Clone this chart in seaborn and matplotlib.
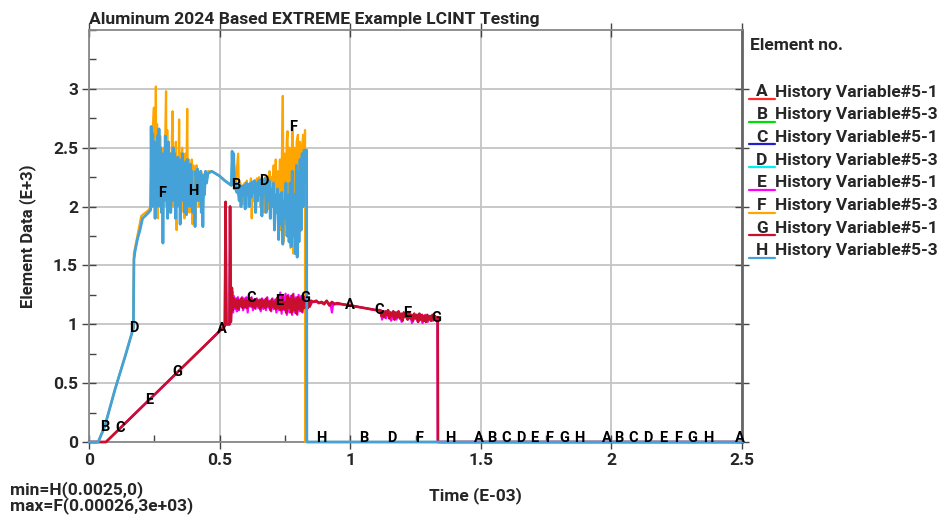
import numpy as np
import pandas as pd
import matplotlib
matplotlib.use("Agg")
import matplotlib.pyplot as plt
from matplotlib.lines import Line2D
from matplotlib.ticker import MultipleLocator
import seaborn as sns

# ---------------- data (Time in E-03, value in E+3) ----------------
title = "Aluminum 2024 Based EXTREME Example LCINT Testing"
letters = ["A", "B", "C", "D", "E", "F", "G", "H"]
names = ["History Variable#5-1", "History Variable#5-3"] * 4
colors = ["#ff2a2a", "#00dd00", "#1f1fd0", "#00f0f0",
          "#ff00ff", "#ffa500", "#c8102e", "#45a2d8"]

# History Variable#5-3 (upper family): curve H
h_x = [0.0, 0.035, 0.06, 0.10, 0.14, 0.17, 0.172, 0.176, 0.185, 0.195, 0.205, 0.215, 0.228, 0.236,
       0.238, 0.241, 0.244, 0.247, 0.250, 0.253, 0.256, 0.259, 0.262, 0.265, 0.268, 0.271, 0.274,
       0.277, 0.280, 0.283, 0.286, 0.289, 0.292, 0.295, 0.298, 0.301, 0.304, 0.307, 0.310, 0.313,
       0.316, 0.319, 0.322, 0.325, 0.328, 0.331, 0.334, 0.337, 0.340, 0.343, 0.346, 0.349, 0.352,
       0.355, 0.358, 0.361, 0.364, 0.367, 0.370, 0.373, 0.376, 0.379, 0.382, 0.385, 0.388, 0.391,
       0.394, 0.397, 0.400, 0.403, 0.406, 0.409, 0.412, 0.415, 0.418, 0.421, 0.424, 0.427, 0.430,
       0.433, 0.436, 0.439, 0.442, 0.446, 0.450, 0.455, 0.470, 0.500, 0.520, 0.545,
       0.548, 0.551, 0.554, 0.557, 0.562, 0.566, 0.570, 0.575, 0.578, 0.582, 0.586, 0.590, 0.594,
       0.598, 0.602, 0.606, 0.610, 0.614, 0.618, 0.622, 0.626, 0.630, 0.634, 0.638, 0.642, 0.646,
       0.650, 0.654, 0.658, 0.662, 0.666, 0.670, 0.674, 0.678, 0.682, 0.686, 0.690, 0.694, 0.698,
       0.702, 0.706, 0.710, 0.714, 0.718, 0.722, 0.726, 0.730, 0.734, 0.738, 0.742, 0.746, 0.750,
       0.754, 0.758, 0.762, 0.766, 0.770, 0.774, 0.778, 0.782, 0.786, 0.790, 0.794, 0.797, 0.800,
       0.804, 0.808, 0.812, 0.816, 0.820, 0.824, 0.828, 0.833, 0.834, 2.5]
h_y = [0.0, 0.0, 0.13, 0.45, 0.74, 0.97, 1.55, 1.62, 1.72, 1.80, 1.90, 1.92, 1.95, 1.97,
       2.68, 2.00, 2.62, 2.05, 2.55, 1.90, 2.45, 2.10, 2.60, 2.00, 2.66, 2.15, 2.50,
       1.95, 2.45, 1.69, 2.30, 2.05, 2.60, 2.10, 2.50, 1.90, 2.55, 2.15, 2.45, 1.95,
       2.40, 2.05, 2.50, 2.10, 2.45, 1.90, 2.35, 2.00, 2.42, 2.10, 2.38, 1.85, 2.40,
       2.05, 2.45, 2.15, 2.35, 1.95, 2.38, 1.93, 2.40, 2.10, 2.33, 2.00, 2.36, 2.15,
       2.30, 1.95, 2.13, 2.10, 1.83, 2.30, 2.20, 2.32, 2.05, 2.28, 2.15, 2.30, 1.95,
       2.27, 1.83, 2.25, 2.10, 2.30, 2.20, 2.28, 2.30, 2.26, 2.22, 2.18,
       2.47, 2.20, 2.45, 2.15, 2.20, 2.12, 2.16, 2.05, 2.18, 2.00, 2.17, 2.10, 2.18,
       1.98, 2.20, 2.10, 2.19, 2.00, 2.20, 2.08, 2.21, 2.12, 2.22, 1.95, 2.20, 2.05,
       2.22, 2.10, 2.23, 1.92, 2.20, 2.22, 2.24, 1.95, 2.18, 2.05, 2.22, 1.90, 2.15,
       2.00, 2.20, 1.80, 2.10, 1.95, 2.15, 1.72, 2.10, 1.85, 2.12, 1.68, 2.05, 1.90,
       2.20, 1.75, 2.10, 1.70, 2.20, 1.66, 2.30, 1.75, 2.10, 1.60, 2.35, 1.57, 2.30,
       1.70, 2.40, 1.80, 2.45, 2.00, 2.48, 2.20, 2.48, 0.0, 0.0]

# History Variable#5-3: curve F
f_x = [0.0, 0.035, 0.06, 0.10, 0.14, 0.17, 0.172, 0.185, 0.200, 0.228, 0.236,
       0.2395, 0.2425, 0.2455, 0.2485, 0.2515, 0.2545, 0.2560, 0.2575, 0.2605, 0.2635, 0.2665,
       0.2695, 0.2725, 0.2755, 0.2785, 0.2815, 0.2845, 0.2875, 0.2905, 0.2950, 0.2965, 0.2995,
       0.3025, 0.3055, 0.3085, 0.3115, 0.3145, 0.3175, 0.3200, 0.3235, 0.3265, 0.3295, 0.3325,
       0.3355, 0.3385, 0.3415, 0.3450, 0.3475, 0.3505, 0.3535, 0.3565, 0.3595, 0.3625, 0.3655,
       0.3685, 0.3715, 0.3760, 0.3785, 0.3815, 0.3845, 0.3875, 0.3905, 0.3935, 0.3965, 0.3995,
       0.4025, 0.4055, 0.4085, 0.4115, 0.4145, 0.4175, 0.4205, 0.4235, 0.4265, 0.4295, 0.4325,
       0.4355, 0.4385, 0.4420, 0.4460, 0.455, 0.470, 0.500, 0.520, 0.545,
       0.5495, 0.5520, 0.5555, 0.5600, 0.5710, 0.5740, 0.5790, 0.5840, 0.5880, 0.5920, 0.5960,
       0.6000, 0.6040, 0.6080, 0.6120, 0.6160, 0.6200, 0.6230, 0.6270, 0.6310, 0.6350, 0.6390,
       0.6430, 0.6470, 0.6510, 0.6550, 0.6590, 0.6630, 0.6670, 0.6710, 0.6750, 0.6790, 0.6830,
       0.6870, 0.6910, 0.6950, 0.6990, 0.7030, 0.7070, 0.7110, 0.7150, 0.7190, 0.7230, 0.7270,
       0.7310, 0.7350, 0.7390, 0.7420, 0.7450, 0.7490, 0.7530, 0.7570, 0.7600, 0.7630, 0.7670,
       0.7710, 0.7760, 0.7800, 0.7830, 0.7870, 0.7910, 0.7950, 0.8000, 0.8030, 0.8070, 0.8110,
       0.8150, 0.8200, 0.8240, 0.8270, 0.8275, 2.5]
f_y = [0.0, 0.0, 0.13, 0.45, 0.74, 0.97, 1.60, 1.75, 1.92, 1.97, 2.00,
       2.45, 2.10, 2.70, 2.84, 2.00, 2.60, 3.02, 2.20, 2.70, 1.90, 2.55,
       2.10, 2.60, 2.00, 2.28, 1.95, 2.50, 2.10, 2.40, 2.98, 2.00, 2.65,
       2.15, 2.50, 1.95, 2.45, 2.10, 2.60, 2.81, 2.00, 2.50, 2.10, 2.55,
       1.80, 2.40, 2.05, 2.74, 2.10, 2.45, 1.95, 2.50, 2.15, 2.40, 1.90,
       2.45, 2.00, 2.83, 2.05, 2.40, 1.95, 2.35, 2.10, 2.40, 1.85, 2.35,
       2.05, 2.30, 1.90, 2.35, 2.10, 2.30, 2.00, 2.28, 2.10, 2.30, 2.00,
       2.25, 2.15, 2.28, 2.22, 2.30, 2.30, 2.26, 2.22, 2.18,
       2.30, 2.20, 2.35, 2.15, 2.45, 2.10, 2.20, 2.05, 2.18, 2.02, 2.20,
       2.08, 2.22, 2.00, 2.18, 2.10, 2.24, 1.90, 2.20, 2.05, 2.22, 2.00,
       2.24, 2.08, 2.25, 2.00, 2.22, 2.10, 2.22, 1.95, 2.25, 2.00, 2.20,
       1.98, 2.30, 1.90, 2.25, 2.05, 2.35, 1.85, 2.40, 1.95, 2.30, 1.75,
       2.40, 1.80, 2.50, 2.94, 1.70, 2.45, 1.85, 2.55, 2.64, 1.75, 2.50,
       1.65, 2.45, 2.68, 1.60, 2.50, 1.70, 2.55, 2.61, 1.75, 2.55, 1.90,
       2.50, 2.61, 2.10, 2.65, 0.0, 0.0]

# History Variable#5-1 (lower family): curve G
g_x = [0.0, 0.065, 0.520, 0.523, 0.526, 0.538, 0.540, 0.543,
       0.547, 0.550, 0.553, 0.556, 0.560, 0.564, 0.568, 0.572, 0.576, 0.580, 0.584, 0.588, 0.592,
       0.596, 0.600, 0.605, 0.610, 0.615, 0.620, 0.625, 0.630, 0.635, 0.640, 0.645, 0.650, 0.655,
       0.660, 0.665, 0.670, 0.675, 0.680, 0.685, 0.690, 0.695, 0.700, 0.705, 0.710, 0.715, 0.720,
       0.725, 0.730, 0.735, 0.740, 0.745, 0.750, 0.755, 0.760, 0.765, 0.770, 0.775, 0.780, 0.785,
       0.790, 0.795, 0.800, 0.805, 0.810, 0.815, 0.820, 0.825, 0.830, 0.835, 0.840, 0.845, 0.850,
       0.860, 0.870, 0.880, 0.890, 0.900, 0.910, 0.920, 0.930, 0.940, 0.950, 0.970, 1.000, 1.050,
       1.100, 1.115, 1.120, 1.125, 1.130, 1.135, 1.140, 1.145, 1.150, 1.155, 1.160, 1.165, 1.170,
       1.175, 1.180, 1.185, 1.190, 1.195, 1.200, 1.205, 1.210, 1.215, 1.220, 1.225, 1.230, 1.235,
       1.240, 1.245, 1.250, 1.255, 1.260, 1.265, 1.270, 1.275, 1.280, 1.285, 1.290, 1.295, 1.300,
       1.305, 1.310, 1.315, 1.320, 1.325, 1.330, 1.335, 1.336, 2.5]
g_y = [0.0, 0.0, 0.985, 2.04, 1.00, 1.00, 2.00, 1.02,
       1.31, 1.12, 1.22, 1.15, 1.20, 1.14, 1.21, 1.13, 1.20, 1.16, 1.22, 1.14, 1.20,
       1.15, 1.21, 1.14, 1.20, 1.16, 1.22, 1.15, 1.20, 1.14, 1.21, 1.16, 1.20, 1.13,
       1.21, 1.15, 1.20, 1.14, 1.22, 1.16, 1.19, 1.12, 1.21, 1.15, 1.19, 1.13, 1.22,
       1.14, 1.20, 1.12, 1.23, 1.13, 1.19, 1.10, 1.24, 1.14, 1.22, 1.10, 1.25, 1.12,
       1.21, 1.09, 1.23, 1.13, 1.21, 1.11, 1.24, 1.14, 1.22, 1.13, 1.21, 1.15, 1.20,
       1.19, 1.20, 1.18, 1.19, 1.17, 1.20, 1.16, 1.19, 1.17, 1.18, 1.17, 1.16, 1.14,
       1.12, 1.12, 1.07, 1.11, 1.06, 1.11, 1.08, 1.12, 1.05, 1.10, 1.07, 1.11, 1.04,
       1.10, 1.06, 1.11, 1.05, 1.09, 1.03, 1.10, 1.06, 1.09, 1.04, 1.10, 1.05, 1.08,
       1.03, 1.09, 1.05, 1.08, 1.02, 1.09, 1.04, 1.08, 1.03, 1.07, 1.02, 1.08, 1.04,
       1.07, 1.03, 1.08, 1.04, 1.07, 1.05, 1.06, 0.0, 0.0]

# History Variable#5-1: curve E
e_x = [0.0, 0.065, 0.520, 0.523, 0.526, 0.538, 0.540, 0.543,
       0.5485, 0.5515, 0.5545, 0.5585, 0.5620, 0.5660, 0.5700, 0.5740, 0.5780, 0.5820, 0.5860,
       0.5900, 0.5940, 0.5980, 0.6025, 0.6075, 0.6125, 0.6175, 0.6225, 0.6275, 0.6325, 0.6375,
       0.6425, 0.6475, 0.6525, 0.6575, 0.6625, 0.6675, 0.6725, 0.6775, 0.6825, 0.6875, 0.6925,
       0.6975, 0.7025, 0.7075, 0.7125, 0.7175, 0.7225, 0.7275, 0.7325, 0.7375, 0.7425, 0.7475,
       0.7525, 0.7575, 0.7625, 0.7675, 0.7725, 0.7775, 0.7825, 0.7875, 0.7925, 0.7975, 0.8025,
       0.8075, 0.8125, 0.8175, 0.8225, 0.8275, 0.8325, 0.8375, 0.8425, 0.8475, 0.855, 0.870,
       0.890, 0.910, 0.925, 0.930, 0.935, 0.950, 0.970, 1.000, 1.050, 1.100, 1.117, 1.122,
       1.127, 1.137, 1.147, 1.157, 1.167, 1.177, 1.187, 1.197, 1.207, 1.217, 1.227, 1.237, 1.247,
       1.257, 1.267, 1.277, 1.287, 1.297, 1.307, 1.317, 1.327, 1.334, 1.335, 2.5]
e_y = [0.0, 0.0, 0.985, 2.04, 1.00, 1.00, 2.00, 1.02,
       1.28, 1.10, 1.24, 1.13, 1.22, 1.11, 1.23, 1.12, 1.21, 1.15, 1.23, 1.12, 1.22,
       1.14, 1.23, 1.10, 1.21, 1.15, 1.23, 1.12, 1.21, 1.13, 1.22, 1.14, 1.21, 1.11,
       1.22, 1.13, 1.21, 1.12, 1.23, 1.14, 1.20, 1.11, 1.22, 1.13, 1.21, 1.10, 1.23,
       1.12, 1.27, 1.09, 1.25, 1.12, 1.26, 1.08, 1.25, 1.10, 1.24, 1.08, 1.26, 1.10,
       1.23, 1.08, 1.25, 1.11, 1.24, 1.10, 1.22, 1.12, 1.21, 1.14, 1.20, 1.16, 1.19,
       1.19, 1.18, 1.19, 1.17, 1.10, 1.18, 1.17, 1.17, 1.16, 1.14, 1.12, 1.12, 1.04,
       1.11, 1.05, 1.11, 1.03, 1.10, 1.04, 1.10, 1.02, 1.09, 1.10, 1.09, 1.01, 1.08,
       1.03, 1.08, 1.01, 1.08, 1.02, 1.07, 1.03, 1.06, 1.05, 0.0, 0.0]

# Curves A and C follow G; curves B and D follow H
series_x = [g_x, h_x, g_x, h_x, e_x, f_x, g_x, h_x]
series_y = [g_y, h_y, g_y, h_y, e_y, f_y, g_y, h_y]

# x positions (E-03) of the curve letter markers
label_x = [
    [0.51, 1.00, 1.494, 1.983, 2.49],
    [0.06, 0.56, 1.051, 1.542, 2.03],
    [0.12, 0.62, 1.11, 1.599, 2.085],
    [0.17, 0.67, 1.161, 1.654, 2.14],
    [0.23, 0.73, 1.22, 1.705, 2.20],
    [0.28, 0.78, 1.262, 1.760, 2.255],
    [0.34, 0.83, 1.33, 1.820, 2.31],
    [0.40, 0.89, 1.382, 1.877, 2.37],
]

x_ticks = [0, 0.5, 1, 1.5, 2, 2.5]
y_ticks = [0, 0.5, 1, 1.5, 2, 2.5, 3]
min_text = "min=H(0.0025,0)"
max_text = "max=F(0.00026,3e+03)"

# ---------------- plotting ----------------
sns.set_theme(style="white")
plt.rcParams["font.family"] = ["Roboto", "DejaVu Sans"]
plt.rcParams["font.weight"] = "bold"

W, H = 941, 515
fig = plt.figure(figsize=(W / 100, H / 100), dpi=100)
L, R, T, B = 89, 742, 30, 442
ax = fig.add_axes([L / W, 1 - B / H, (R - L) / W, (B - T) / H])

widths = [1.2, 1.2, 1.2, 1.2, 1.6, 1.6, 1.9, 2.0]
for i, (xs, ys) in enumerate(zip(series_x, series_y)):
    df = pd.DataFrame({"t": xs, "v": ys})
    sns.lineplot(data=df, x="t", y="v", ax=ax, color=colors[i], lw=widths[i],
                 sort=False, estimator=None, legend=False, zorder=3 + i * 0.1)
for ln in ax.get_lines():
    ln.set_clip_on(False)

for i, xs_lab in enumerate(label_x):
    for xl in xs_lab:
        yl = float(np.interp(xl, series_x[i], series_y[i]))
        yl = max(yl, 0.035)
        ax.text(xl, yl, letters[i], ha="center", va="center", fontsize=10.5,
                fontweight="bold", color="black", zorder=10)

ax.set_xlim(0, 2.5)
ax.set_ylim(0, 3.5)
ax.set_xticks(x_ticks)
ax.set_yticks(y_ticks)
ax.set_xticklabels([f"{v:g}" for v in x_ticks])
ax.set_yticklabels([f"{v:g}" for v in y_ticks])
ax.xaxis.set_minor_locator(MultipleLocator(0.25))
ax.yaxis.set_minor_locator(MultipleLocator(0.25))
ax.grid(True, which="major", color="#c4c4c4", lw=1.3)
ax.set_axisbelow(True)
ax.tick_params(which="major", direction="inout", length=10, width=1.0, color="#444444",
               labelsize=12.5, pad=3, top=True, right=True, bottom=True, left=True)
ax.tick_params(which="minor", direction="in", length=5, width=1.0, color="#444444",
               bottom=True, left=True)
for lab in ax.get_xticklabels() + ax.get_yticklabels():
    lab.set_fontweight("bold")
for s in ["left", "bottom", "top"]:
    ax.spines[s].set_color("#888888")
    ax.spines[s].set_linewidth(1.3)
ax.spines["right"].set_color("#666666")
ax.spines["right"].set_linewidth(2)
ax.set_xlabel("")
ax.set_ylabel("Element Data (E+3)", fontsize=12, fontweight="bold", labelpad=12)
ax.set_title(title, loc="left", fontsize=12.6, fontweight="bold", pad=4)
fig.text(475 / W, 1 - 496 / H, "Time (E-03)", fontsize=12.5, fontweight="bold",
         va="center", ha="center")

# legend block
fig.text(750 / W, 1 - 46 / H, "Element no.", fontsize=12.5, fontweight="bold", va="center", ha="left")
for i in range(8):
    yc = 92 + i * 22.7
    fig.add_artist(Line2D([749 / W, 775 / W], [1 - (yc + 7) / H] * 2, color=colors[i], lw=1.6))
    fig.text(762 / W, 1 - yc / H, letters[i], fontsize=12.5, fontweight="bold", va="center", ha="center")
    fig.text(775 / W, 1 - yc / H, names[i], fontsize=12.5, fontweight="bold", va="center", ha="left")

fig.text(10 / W, 1 - 490 / H, min_text, fontsize=12.5, fontweight="bold", va="center", ha="left")
fig.text(10 / W, 1 - 506 / H, max_text, fontsize=12.5, fontweight="bold", va="center", ha="left")

fig.savefig("out.png", dpi=100)
